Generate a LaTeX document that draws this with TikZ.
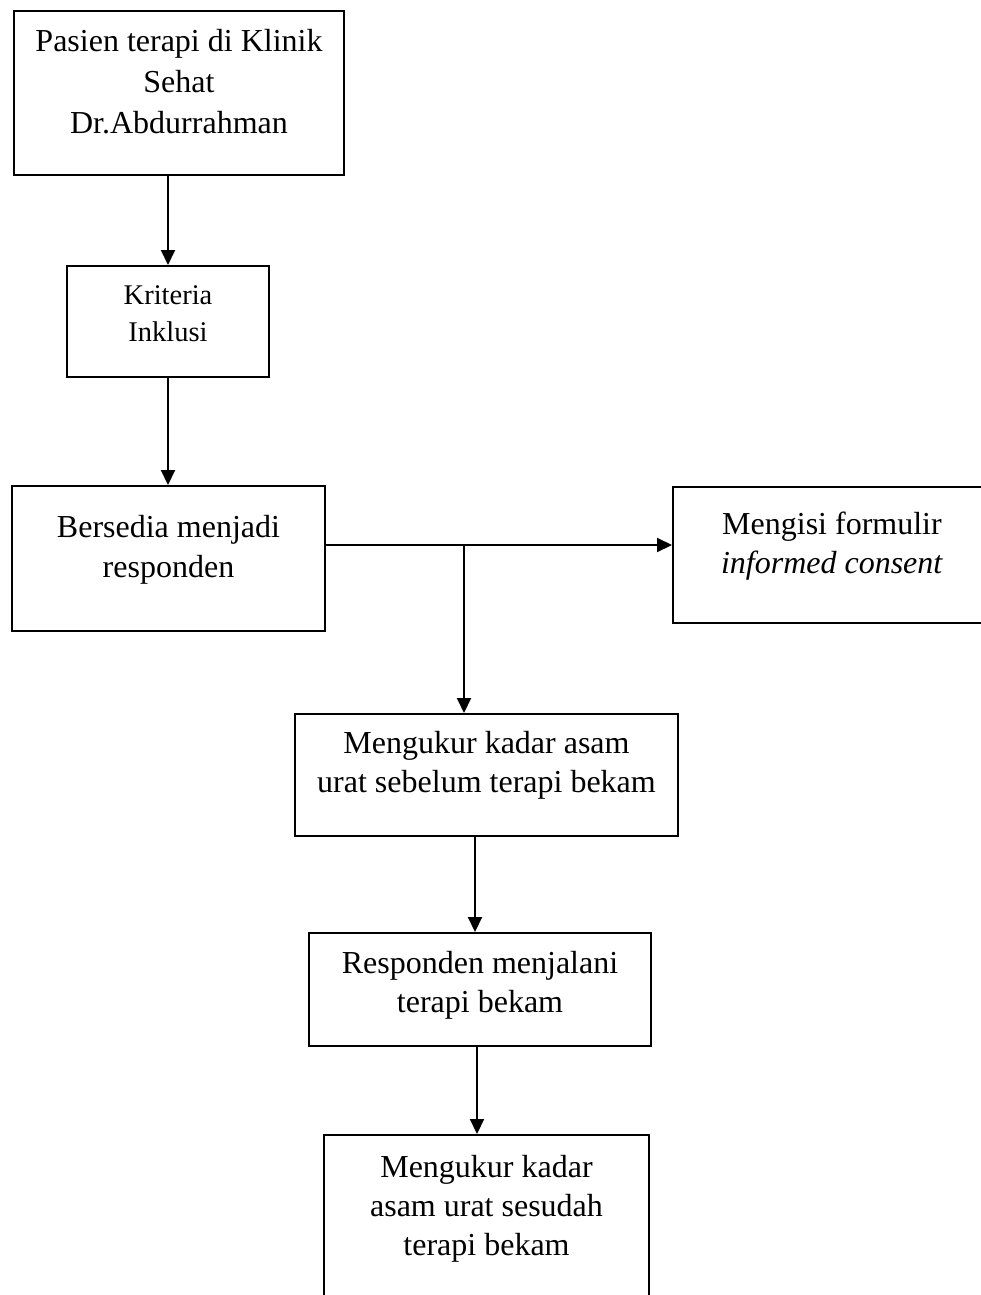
\documentclass[tikz,border=0pt]{standalone}
\usepackage{fontspec}
\setmainfont{Liberation Serif}
\usetikzlibrary{arrows.meta}
\tikzset{
  box/.style={draw, line width=2pt, inner sep=0pt, anchor=north west},
  txt/.style={inner sep=0pt, anchor=north, align=center, font=\fontsize{32}{39}\selectfont},
  arr/.style={line width=2pt, -{Triangle[length=15pt,width=14pt]}},
  plain/.style={line width=2pt}
}
\begin{document}
\begin{tikzpicture}[x=1pt,y=-1pt]
\useasboundingbox (0,0) rectangle (981,1295);
\clip (0,0) rectangle (981,1295);
\node[box, minimum width=330pt, minimum height=164pt] (b1) at (13,10) {};
\node[box, minimum width=202pt, minimum height=111pt] (b2) at (66,265) {};
\node[box, minimum width=313pt, minimum height=145pt] (b3) at (11,485) {};
\node[box, minimum width=318pt, minimum height=136pt] (b4) at (672,486) {};
\node[box, minimum width=383pt, minimum height=122pt] (b5) at (294,713) {};
\node[box, minimum width=342pt, minimum height=113pt] (b6) at (308,932) {};
\node[box, minimum width=325pt, minimum height=220pt] (b7) at (323,1134) {};

\node[txt, font=\fontsize{32}{41}\selectfont] (t1) at ([yshift=-19.1pt]b1.north) {Pasien terapi di Klinik\\Sehat\\Dr.Abdurrahman};
\node[txt, font=\fontsize{28.5}{37}\selectfont] (t2) at ([yshift=-20.5pt]b2.north) {Kriteria\\Inklusi};
\node[txt, font=\fontsize{32}{40}\selectfont] (t3) at ([yshift=-30.1pt]b3.north) {Bersedia menjadi\\responden};
\node[txt] (t4) at ([yshift=-26.1pt]b4.north) {Mengisi formulir\\\textit{informed consent}};
\node[txt] (t5) at ([yshift=-18.1pt]b5.north) {Mengukur kadar asam\\urat sebelum terapi bekam};
\node[txt] (t6) at ([yshift=-19.1pt]b6.north) {Responden menjalani\\terapi bekam};
\node[txt] (t7) at ([yshift=-21.1pt]b7.north) {Mengukur kadar\\asam urat sesudah\\terapi bekam};

\coordinate (j) at (464,545);
\coordinate (c56) at (475,0);
\coordinate (c67) at (477,0);

\draw[arr] (b2.north |- b1.south) -- (b2.north);
\draw[arr] (b2.south) -- (b2.south |- b3.north);
\draw[arr] (j -| b3.east) -- (j -| b4.west);
\draw[arr] (j) -- (j |- b5.north);
\draw[arr] (c56 |- b5.south) -- (c56 |- b6.north);
\draw[arr] (c67 |- b6.south) -- (c67 |- b7.north);
\end{tikzpicture}
\end{document}
